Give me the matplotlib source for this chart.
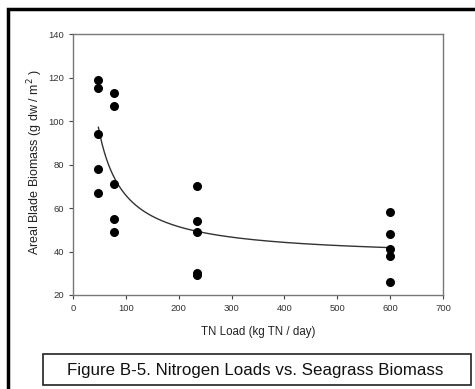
import numpy as np
import matplotlib
matplotlib.use("Agg")
import matplotlib.pyplot as plt
from matplotlib.patches import Rectangle

plt.rcParams['font.family'] = ['Liberation Sans', 'DejaVu Sans']

# Data
tn_load = [48, 48, 48, 48, 48,
           78, 78, 78, 78, 78,
           234, 234, 234, 234, 234,
           600, 600, 600, 600, 600]
biomass = [119, 115, 94, 78, 67,
           113, 107, 71, 55, 49,
           70, 54, 49, 30, 29,
           58, 48, 41, 38, 26]

x_ticks = [0, 100, 200, 300, 400, 500, 600, 700]
y_ticks = [20, 40, 60, 80, 100, 120, 140]
x_label = "TN Load (kg TN / day)"
y_label = "Areal Blade Biomass (g dw / m$^2$ )"
caption = "Figure B-5. Nitrogen Loads vs. Seagrass Biomass"

fig = plt.figure(figsize=(4.75, 3.89), dpi=100)

# outer frame (left and top edges visible)
fig.add_artist(Rectangle((8/475, -0.05), 1.2, 1 - 9/389 + 0.05,
                         transform=fig.transFigure, fill=False,
                         edgecolor='black', linewidth=2.5))

ax = fig.add_axes([73/475, 1 - 295/389, (443 - 73)/475, (295 - 34)/389])
ax.scatter(tn_load, biomass, s=30, color='black', zorder=3)

# least squares fit y = a + b/x
xa = np.array(tn_load, dtype=float)
ya = np.array(biomass, dtype=float)
b, a = np.polyfit(1.0 / xa, ya, 1)
xf = np.linspace(min(tn_load), max(tn_load), 300)
ax.plot(xf, a + b / xf, color='#333333', linewidth=1.0)

ax.set_xlim(0, 700)
ax.set_ylim(20, 140)
ax.set_xticks(x_ticks)
ax.set_yticks(y_ticks)
ax.tick_params(labelsize=6.8, length=3, width=0.8, colors='#444444', labelcolor='#333333')
for s in ax.spines.values():
    s.set_color('#777777')
    s.set_linewidth(1.0)
ax.set_xlabel(x_label, fontsize=8.3, color='#222222', labelpad=9)
ax.set_ylabel(y_label, fontsize=9.0, color='#222222')
ax.yaxis.set_label_coords(-0.077, 0.51)

# caption box
fig.add_artist(Rectangle((43/475, 1 - 385/389), (471 - 43)/475, (385 - 354)/389,
                         transform=fig.transFigure, fill=False,
                         edgecolor='#222222', linewidth=1.2))
fig.text(255/475, 1 - 370/389, caption, ha='center', va='center',
         fontsize=12.2, color='#111111')

fig.savefig("out.png", dpi=100)
